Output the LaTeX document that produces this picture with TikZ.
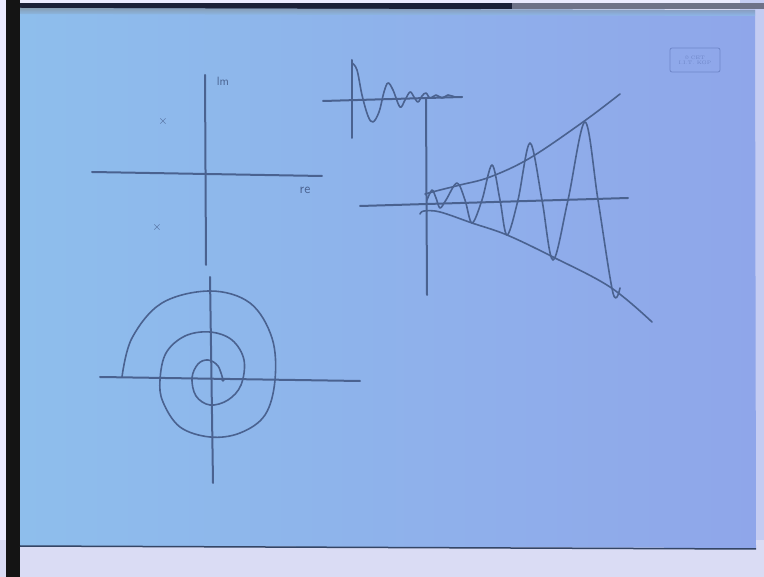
\documentclass[tikz,border=0pt]{standalone}
\usetikzlibrary{shadings}
\definecolor{paperL}{HTML}{8EBEEC}
\definecolor{paperR}{HTML}{8FA6EA}
\definecolor{ink}{HTML}{4A6290}
\definecolor{faint}{HTML}{6E86C8}
\definecolor{lowstrip}{HTML}{DADCF4}
\definecolor{rightstrip}{HTML}{C4CCF2}
\definecolor{topband}{HTML}{1A2038}
\definecolor{topgray}{HTML}{6E7288}
\tikzset{
  sketch/.style={draw=ink, line width=2pt, line cap=round, line join=round},
  thinsketch/.style={draw=ink, line width=1.6pt, line cap=round, line join=round},
  hand/.style={text=ink, inner sep=0pt, font=\sffamily\fontsize{10}{10}\selectfont},
}
\begin{document}
\begin{tikzpicture}[x=1pt,y=-1pt]
\useasboundingbox (0,0) rectangle (764,577);
% backgrounds
\fill[white!92!blue] (0,0) rectangle (764,577);
\fill[rightstrip] (740,0) rectangle (764,577);
\fill[lowstrip] (0,540) rectangle (764,577);
\fill[topband] (6,3) rectangle (512,9);
\fill[topgray] (512,3) rectangle (764,9);
\shade[left color=paperL, right color=paperR] (20,8) -- (755,10) -- (756,548) -- (20,546) -- cycle;
\shade[top color=gray!70!paperL, bottom color=paperL, opacity=0.7] (20,8) -- (755,10) -- (755,16) -- (20,14) -- cycle;
\fill[black!92] (6,0) rectangle (20,577);
\draw[ink!70!black, line width=1.5pt] (20,546) -- (756,549);
% watermark
\draw[faint, line width=0.8pt, rounded corners=2pt] (670,48) rectangle (720,72);
\node[text=faint, font=\fontsize{5}{5}\selectfont, align=center, inner sep=0pt] (wm) at (695,60) {\textcopyright\ CET\\I.I.T. KGP};
% pole plot
\coordinate (imT) at (205,75); \coordinate (imB) at (206,265);
\coordinate (reL) at (92,172); \coordinate (reR) at (322,176);
\draw[sketch] (imT) -- (imB);
\draw[sketch] (reL) -- (reR);
\node[hand, font=\sffamily\fontsize{12}{12}\selectfont] (im) at (223,81) {lm};
\node[hand, font=\sffamily\fontsize{14}{14}\selectfont] (re) at (305,190) {re};
\node[hand, font=\fontsize{12}{12}\selectfont] (p1) at (163,122) {$\times$};
\node[hand, font=\fontsize{12}{12}\selectfont] (p2) at (157,228) {$\times$};
% decaying response
\coordinate (dT) at (352,60); \coordinate (dB) at (352,138);
\coordinate (dL) at (323,101); \coordinate (dR) at (462,97);
\draw[sketch] (dT) -- (dB);
\draw[sketch] (dL) -- (dR);
\draw[thinsketch] plot[smooth, tension=0.6] coordinates {(352,63) (357,70) (362,95) (368,116) (373,122) (379,112) (384,92) (388,83) (393,90) (400,107) (405,100) (410,92) (414,97) (418,102) (422,96) (426,93) (430,98) (436,95) (442,98) (448,95) (455,97) (462,97)};
% growing response
\coordinate (gT) at (426,98); \coordinate (gB) at (427,295);
\coordinate (gL) at (360,206); \coordinate (gR) at (628,198);
\draw[sketch] (gT) -- (gB);
\draw[sketch] (gL) -- (gR);
\draw[thinsketch] plot[smooth, tension=0.6] coordinates {(425,194) (440,190) (460,185) (490,177) (530,158) (583,122) (620,94)};
\draw[thinsketch] plot[smooth, tension=0.6] coordinates {(420,214) (424,211) (440,212) (472,223) (507,235) (553,257) (610,287) (652,322)};
\draw[thinsketch] plot[smooth, tension=0.55] coordinates {(427,200) (432,190) (436,198) (440,208) (446,200) (457,183) (465,200) (472,223) (482,200) (492,165) (500,200) (507,235) (518,200) (530,143) (542,200) (553,260) (568,200) (585,122) (598,200) (613,293) (620,288)};
% spiral
\coordinate (sT) at (210,277); \coordinate (sB) at (213,483);
\coordinate (sL) at (100,377); \coordinate (sR) at (360,381);
\draw[sketch] (sT) -- (sB);
\draw[sketch] (sL) -- (sR);
\draw[thinsketch] plot[smooth, tension=0.6] coordinates {(122,377) (132,338) (162,303) (210,291) (250,303) (272,338) (275,380) (265,415) (240,433) (210,437) (180,427) (163,402) (160,380) (166,353) (185,336) (210,332) (232,340) (244,360) (241,385) (228,400) (210,405) (196,396) (192,378) (198,364) (208,360) (218,366) (223,380)};
\fill[ink] (223,380) circle (1.8pt);
\end{tikzpicture}
\end{document}
